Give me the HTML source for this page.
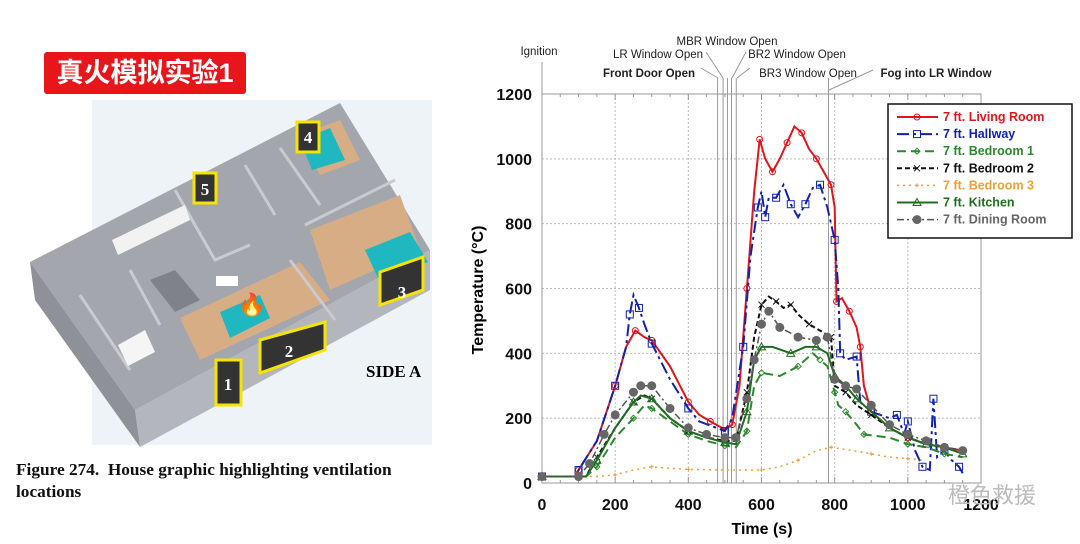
<!DOCTYPE html>
<html><head><meta charset="utf-8">
<style>
html,body{margin:0;padding:0;background:#fff;}
body{width:1080px;height:544px;position:relative;overflow:hidden;font-family:"Liberation Sans","Noto Sans CJK SC",sans-serif;}
#title{position:absolute;left:44px;top:52px;width:202px;height:42px;background:#e8161b;border-radius:3px;color:#fff;font:bold 27px "Liberation Sans","Noto Sans CJK SC",sans-serif;line-height:42px;text-align:center;}
#caption{position:absolute;left:16px;top:459px;font:bold 17.3px "Liberation Serif",serif;line-height:22px;color:#111;}
#sidea{position:absolute;left:366px;top:362px;font:bold 17px "Liberation Serif",serif;}
</style></head><body>
<svg width="1080" height="544" style="position:absolute;left:0;top:0">
 <rect x="92" y="100" width="340" height="345" fill="#eef3f7"/>
 <polygon points="30,262 340,103 430,250 135,410" fill="#a3a6ac"/>
 <polygon points="135,410 430,250 430,290 140,447" fill="#b3b6bc"/>
 <polygon points="30,262 135,410 140,447 35,300" fill="#8e9197"/>
 <polygon points="180,318 300,262 330,300 200,360" fill="#d7ad86"/>
 <polygon points="310,230 400,195 420,250 330,290" fill="#d7ad86"/>
 <polygon points="300,135 340,120 360,160 320,175" fill="#d7ad86"/>
 <g stroke="#c8cbd0" stroke-width="3" fill="none">
  <path d="M175,190 L215,260 L250,245"/>
  <path d="M245,165 L275,215"/>
  <path d="M280,148 L320,205"/>
  <path d="M305,225 L395,180"/>
  <path d="M290,260 L335,320"/>
  <path d="M80,295 L130,370"/>
  <path d="M130,270 L160,325"/>
 </g>
 <polygon points="300,140 330,128 345,160 312,170" fill="#1fb7c0"/>
 <polygon points="365,250 410,232 428,262 378,278" fill="#1fb7c0"/>
 <polygon points="220,312 260,295 270,318 230,338" fill="#1fb7c0"/>
 <polygon points="150,280 175,270 200,300 175,312" fill="#7f8288"/>
 <polygon points="112,240 185,205 190,220 118,255" fill="#f2f2f2"/>
 <polygon points="118,345 145,330 155,352 128,366" fill="#f5f5f5"/>
 <rect x="216" y="276" width="22" height="10" fill="#fff"/>
 <text x="238" y="312" font-size="22" fill="#f60">🔥</text>
 <g fill="#333" stroke="#f5e400" stroke-width="3">
  <rect x="194" y="173" width="22" height="30"/>
  <rect x="297" y="122" width="22" height="30"/>
  <polygon points="380,272 423,257 423,290 380,305"/>
  <polygon points="260,340 325,322 325,350 260,373"/>
  <rect x="216" y="360" width="25" height="45"/>
 </g>
 <g fill="#fff" font-family="Liberation Serif,serif" font-weight="bold" font-size="17" text-anchor="middle">
  <text x="205" y="195">5</text><text x="308" y="143">4</text><text x="402" y="298">3</text><text x="289" y="357">2</text><text x="228" y="390">1</text>
 </g>
</svg>
<div id="title">真火模拟实验1</div>
<div id="sidea">SIDE A</div>
<div id="caption">Figure 274.&nbsp; House graphic highlighting ventilation<br>locations</div>

<svg id="chart" width="1080" height="544" style="position:absolute;left:0;top:0"></svg>
<script>
const xTicks=[0,200,400,600,800,1000,1200];
const yTicks=[0,200,400,600,800,1000,1200];
const seriesNames=["7 ft. Living Room","7 ft. Hallway","7 ft. Bedroom 1","7 ft. Bedroom 2","7 ft. Bedroom 3","7 ft. Kitchen","7 ft. Dining Room"];
const tLiving=[0,90,100,150,200,230,255,280,300,350,400,430,460,500,520,540,560,580,595,610,630,650,670,690,710,730,750,770,790,800,805,820,840,860,870,880,900,950,1000,1050,1100,1150];
const vLiving=[20,20,40,130,300,420,470,450,440,360,250,210,190,165,180,300,600,900,1060,1000,960,1000,1050,1100,1080,1030,1000,960,920,850,560,570,530,480,420,300,220,170,140,120,110,100];
const tHall=[0,90,100,150,200,230,240,250,265,280,300,350,400,430,500,520,550,570,590,600,610,620,640,660,680,700,720,740,760,780,800,810,815,830,860,870,900,950,970,990,1000,1020,1040,1060,1070,1080,1100,1120,1140,1150];
const vHall=[20,20,40,130,300,420,520,580,540,490,430,320,230,190,160,200,420,700,850,900,820,880,880,920,860,820,860,910,920,850,750,600,400,380,390,250,220,200,210,150,190,100,50,40,260,80,100,70,50,30];
const tBed1=[0,120,150,200,250,280,300,350,400,450,500,530,560,580,600,650,700,740,760,780,800,810,830,860,880,950,1000,1050,1100,1150];
const vBed1=[20,20,50,140,200,240,230,190,150,130,115,110,160,300,340,330,360,400,380,360,280,240,220,180,150,140,120,110,90,80];
const tBed2=[0,120,150,200,250,280,300,350,400,450,500,530,560,580,600,620,640,660,680,700,730,760,790,800,830,860,900,950,1000,1050,1100,1150];
const vBed2=[20,20,80,170,250,270,260,200,160,140,130,130,280,450,550,575,560,540,550,520,490,470,450,300,280,240,210,170,140,120,110,100];
const tBed3=[0,150,200,250,300,350,400,500,600,650,700,750,790,850,900,950,1000,1050];
const vBed3=[20,20,25,40,50,45,42,40,40,50,70,100,110,100,90,80,75,70];
const tKit=[0,120,150,200,250,270,300,350,400,450,500,530,560,580,600,630,680,720,750,780,800,830,860,900,950,1000,1050,1100,1150];
const vKit=[20,20,70,170,250,270,260,200,160,140,125,120,220,380,420,420,400,420,420,400,330,300,260,220,170,140,120,110,90];
const tDin=[0,100,130,170,200,250,270,300,350,400,450,500,530,560,580,600,620,650,700,750,780,800,830,860,900,950,1000,1050,1100,1150];
const vDin=[20,20,60,150,210,280,300,300,230,170,150,140,140,260,380,490,530,480,450,440,450,320,300,290,240,180,150,130,110,100];
const eventTimes=[0,480,495,507,518,531,783];

const NS="http://www.w3.org/2000/svg";
const svg=document.getElementById('chart');
const X0=542,X1=981,Y0=483,Y1=94;
const X=t=>X0+(X1-X0)*t/1200;
const Y=v=>Y0-(Y0-Y1)*v/1200;
function el(tag,attrs,parent){const e=document.createElementNS(NS,tag);for(const k in attrs)e.setAttribute(k,attrs[k]);(parent||svg).appendChild(e);return e;}

const grid=el('g',{});


xTicks.forEach(t=>{if(t>0&&t<1200)el('line',{x1:X(t),x2:X(t),y1:Y1,y2:Y0,stroke:'#bbb','stroke-dasharray':'2,2'},grid);});
yTicks.forEach(v=>{if(v>0&&v<1200)el('line',{x1:X0,x2:X1,y1:Y(v),y2:Y(v),stroke:'#bbb','stroke-dasharray':'2,2'},grid);});
for(let t=0;t<=1200;t+=50){el('line',{x1:X(t),x2:X(t),y1:Y1,y2:Y1+(t%200?3:6),stroke:'#999'},grid);el('line',{x1:X(t),x2:X(t),y1:Y0,y2:Y0-(t%200?3:6),stroke:'#999'},grid);}
const frame=el('rect',{x:X0,y:Y1,width:X1-X0,height:Y0-Y1,fill:'none',stroke:'#999'});



const ev=el('g',{});


eventTimes.forEach((t,i)=>{el('line',{x1:X(t),x2:X(t),y1:i==0?62:78,y2:i==0?Y1:Y0,stroke:'#999','stroke-width':1},ev);});

const xt=el('g',{'font-size':16,'font-weight':'bold','text-anchor':'middle',fill:'#111'});


xTicks.forEach(t=>{const e=el('text',{x:X(t),y:510},xt);e.textContent=t;});
const yt=el('g',{'font-size':16,'font-weight':'bold','text-anchor':'end',fill:'#111'});


yTicks.forEach(v=>{const e=el('text',{x:532,y:Y(v)+6},yt);e.textContent=v;});
const xl=el('text',{x:762,y:534,'font-size':16,'font-weight':'bold','text-anchor':'middle'});
xl.textContent='Time (s)';


const yl=el('text',{x:0,y:0,'font-size':16,'font-weight':'bold','text-anchor':'middle',transform:'translate(483,290) rotate(-90)'});
yl.textContent='Temperature (°C)';



const labels=[["Ignition",539,55,false],["MBR Window Open",727,45,false],["LR Window Open",658,58,false],["BR2 Window Open",797,58,false],["Front Door Open",649,77,true],["BR3 Window Open",808,77,false],["Fog into LR Window",936,77,true]];
const lg=el('g',{'font-size':11.5,'text-anchor':'middle',fill:'#222'});


labels.forEach(l=>{const e=el('text',{x:l[1],y:l[2],'font-weight':l[3]?'bold':'normal'},lg);e.textContent=l[0];});
[[701,68,718,78],[706,52,723,78],[746,52,732,78],[750,68,737,78],[873,70,829,90]].forEach(p=>el('line',{x1:p[0],y1:p[1],x2:p[2],y2:p[3],stroke:'#999'},lg));

const styles=[
 {c:'#e0161b',d:'',w:2,m:'circle'},
 {c:'#1022b0',d:'12,4,3,4',w:2,m:'square'},
 {c:'#2a8a2a',d:'9,5',w:2,m:'diamond'},
 {c:'#111',d:'5,3',w:2,m:'x'},
 {c:'#f0a030',d:'2,4',w:1.5,m:'plus'},
 {c:'#1f6e1f',d:'',w:2,m:'tri'},
 {c:'#555',d:'7,3,2,3',w:1.5,m:'dot'}];
const data=[[tLiving,vLiving],[tHall,vHall],[tBed1,vBed1],[tBed2,vBed2],[tBed3,vBed3],[tKit,vKit],[tDin,vDin]];
function marker(g,s,x,y){
 if(s.m=='circle')el('circle',{cx:x,cy:y,r:3,fill:'none',stroke:s.c},g);
 else if(s.m=='square')el('rect',{x:x-3.5,y:y-3.5,width:7,height:7,fill:'none',stroke:s.c},g);
 else if(s.m=='diamond')el('polygon',{points:`${x},${y-3} ${x+3},${y} ${x},${y+3} ${x-3},${y}`,fill:'none',stroke:s.c},g);
 else if(s.m=='x'){el('path',{d:`M${x-3},${y-3}L${x+3},${y+3}M${x-3},${y+3}L${x+3},${y-3}`,stroke:s.c},g);}
 else if(s.m=='plus'){el('path',{d:`M${x-2},${y}L${x+2},${y}M${x},${y-2}L${x},${y+2}`,stroke:s.c},g);}
 else if(s.m=='tri')el('polygon',{points:`${x},${y-4} ${x+4},${y+3} ${x-4},${y+3}`,fill:'none',stroke:s.c},g);
 else el('circle',{cx:x,cy:y,r:4.5,fill:'#666'},g);
}
data.forEach((dv,i)=>{
 const s=styles[i];
 const g=el('g',{});
 
 
 const [ts,vs]=dv;
 el('path',{d:ts.map((t,j)=>(j?'L':'M')+X(t).toFixed(1)+','+Y(vs[j]).toFixed(1)).join(''),fill:'none',stroke:s.c,'stroke-width':s.w,'stroke-dasharray':s.d},g);
 const step=s.m=='dot'?1:2;
 ts.forEach((t,j)=>{if(j%step==0)marker(g,s,X(t),Y(vs[j]));});
});

const leg=el('g',{});


el('rect',{x:888,y:104,width:184,height:134,fill:'#fff',stroke:'#111','stroke-width':1.5},leg);
seriesNames.forEach((n,i)=>{
 const s=styles[i];const y=121+i*17.1;
 const e=el('g',{},leg);
 
 
 el('line',{x1:897,x2:938,y1:y-4,y2:y-4,stroke:s.c,'stroke-width':s.w,'stroke-dasharray':s.d},e);
 marker(e,s,917,y-4);
 const tx=el('text',{x:943,y:y,'font-size':12.5,'font-weight':'bold',fill:i==6?'#666':(i==4?'#f0a030':s.c)},e);
 tx.textContent=n;
});
const wm=el('text',{x:948,y:503,'font-size':22,fill:'#bbb','font-family':'Noto Sans CJK SC,sans-serif'});
wm.textContent='橙色救援';


</script>
</body></html>
